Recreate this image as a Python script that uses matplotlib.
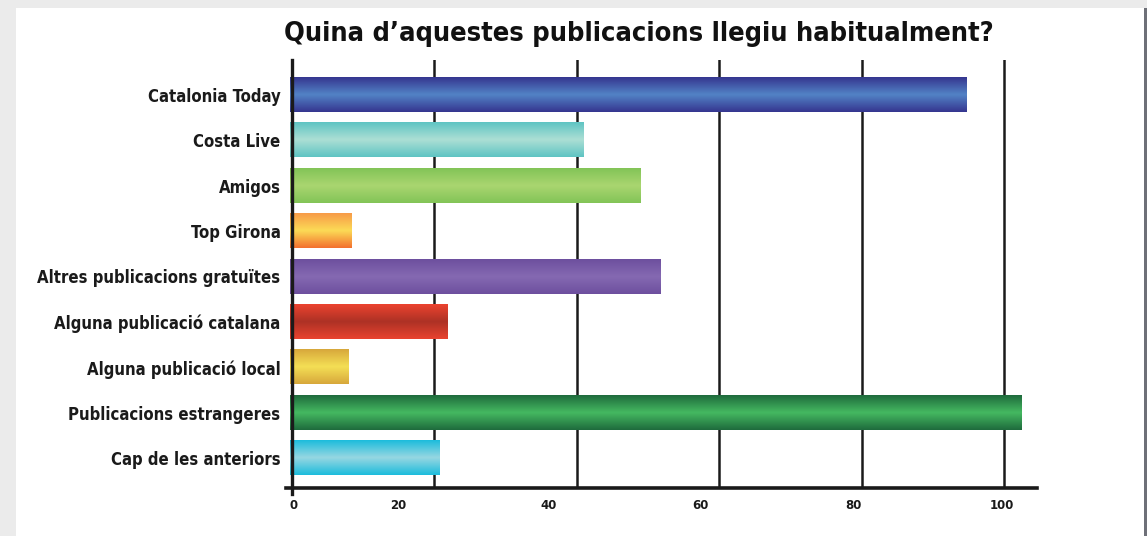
import numpy as np
import matplotlib.pyplot as plt
from matplotlib.colors import LinearSegmentedColormap
from matplotlib.patches import Rectangle

# dades
categories = ["Catalonia Today", "Costa Live", "Amigos", "Top Girona",
              "Altres publicacions gratuïtes", "Alguna publicació catalana",
              "Alguna publicació local", "Publicacions estrangeres",
              "Cap de les anteriors"]
values = [94.6, 40.9, 48.9, 8.3, 51.7, 21.8, 7.9, 102.3, 20.7]
grid_ticks = [0, 20, 40, 60, 80, 100]
tick_labels = ["0", "20", "40", "60", "80", "100"]
# the labels in the original sit a bit off the grid lines
tick_label_pos = [0.2, 14.9, 36.1, 57.4, 78.8, 99.7]

# gradient colours: (top, middle, bottom)
bar_colors = [
    ("#35358f", "#5283c6", "#35358f"),
    ("#5ec4c3", "#acdfd4", "#5ec4c3"),
    ("#82c457", "#aad670", "#82c457"),
    ("#f79a48", "#fcdb56", "#f36f2e"),
    ("#6d4f9e", "#8569b2", "#6d4f9e"),
    ("#ec432f", "#ad3125", "#e9432f"),
    ("#d7a73b", "#f4df55", "#d7a73b"),
    ("#1e6a3c", "#45b961", "#1e6a3c"),
    ("#1bbcdc", "#97d7e2", "#1bbcdc"),
]

font = "DejaVu Sans"

fig = plt.figure(figsize=(11.47, 5.36), dpi=100)
fig.patch.set_facecolor("#ebebeb")

# white panel with a grey edge on the right
bg = fig.add_axes([0, 0, 1, 1], zorder=0)
bg.set_xlim(0, 1147)
bg.set_ylim(536, 0)
bg.axis("off")
bg.add_patch(Rectangle((16, 8), 1129, 528, facecolor="white", edgecolor="none"))
bg.add_patch(Rectangle((1144, 8), 3, 528, facecolor="#6e7078", edgecolor="none"))

ax = fig.add_axes([286 / 1147, 48 / 536, 751 / 1147, 428 / 536], zorder=2)
ax.set_facecolor("none")

y = np.arange(len(categories))
bars = ax.barh(y, values, height=0.75, color="none", zorder=3)

grad = np.linspace(0, 1, 256).reshape(-1, 1)
for rect, cols in zip(bars, bar_colors):
    cmap = LinearSegmentedColormap.from_list("g", list(cols))
    x0, y0 = rect.get_x(), rect.get_y()
    w, h = rect.get_width(), rect.get_height()
    ax.imshow(grad, cmap=cmap, aspect="auto", interpolation="bicubic",
              extent=(x0 - 0.3, x0 + w, y0 + h, y0), zorder=2)

ax.set_xlim(-0.8, 104.6)
ax.set_ylim(8.66, -0.77)

for g in grid_ticks:
    ax.axvline(g, color="#1a1a1a", lw=1.8, zorder=1)
# zero line overlaps the bars start
ax.axvline(0, color="#1a1a1a", lw=2.4, zorder=4, ymin=-0.015, clip_on=False)

ax.set_yticks(y)
ax.set_yticklabels(categories, fontsize=12, fontweight="bold", family=font,
                   fontstretch="condensed")
ax.tick_params(axis="y", length=0, pad=4, colors="#1a1a1a")

ax.set_xticks(grid_ticks)
ax.set_xticklabels([])
ax.tick_params(axis="x", which="major", length=0)
ax.set_xticks(tick_label_pos, minor=True)
ax.set_xticklabels(tick_labels, minor=True, fontsize=8.5, fontweight="bold",
                   color="#1a1a1a")
ax.tick_params(axis="x", which="minor", length=0, pad=8)

for s in ["top", "right", "left"]:
    ax.spines[s].set_visible(False)
ax.spines["bottom"].set_linewidth(2.6)
ax.spines["bottom"].set_color("#1a1a1a")

fig.text(639 / 1147, 1 - 34 / 536, "Quina d\u2019aquestes publicacions llegiu habitualment?",
         ha="center", va="center", fontsize=19.5, fontweight="bold", color="#111111",
         family=font, fontstretch="condensed")

fig.savefig("out.png", dpi=100, facecolor=fig.get_facecolor())
